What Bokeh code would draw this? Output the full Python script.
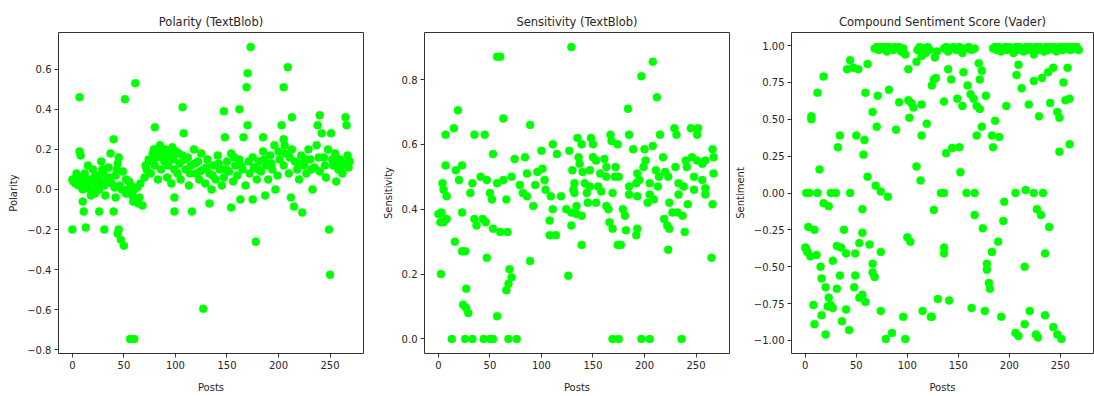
from bokeh.plotting import figure
from bokeh.layouts import row
from bokeh.models import Range1d, FixedTicker, CustomJSTickFormatter
from bokeh.embed import file_html
from bokeh.resources import INLINE

# ---------------- data ----------------
n_posts = 270
x_ticks = [0, 50, 100, 150, 200, 250]

polarity_points = [
    (0, -0.2), (0, 0.05), (1, 0.04), (3, 0.03), (5, 0.05), (6, 0.02), (7, 0.46), (7, 0.19),
    (8, 0.17), (9, 0.06), (10, -0.06), (10, 0.0), (11, -0.11), (12, 0.08), (13, -0.19), (13, 0.03),
    (15, 0.12), (15, 0.05), (17, 0.0), (18, -0.03), (20, 0.1), (21, 0.06), (22, -0.02), (24, 0.02),
    (25, 0.07), (26, -0.11), (26, 0.0), (27, 0.04), (28, 0.14), (30, 0.08), (31, -0.2), (31, 0.02),
    (32, -0.03), (34, 0.05), (35, 0.11), (37, 0.18), (38, 0.03), (40, -0.11), (40, 0.25), (41, 0.01),
    (42, -0.04), (42, 0.07), (44, -0.22), (44, 0.13), (45, -0.2), (45, 0.16), (46, 0.02), (47, -0.25),
    (48, 0.0), (50, -0.28), (51, 0.45), (52, -0.02), (52, 0.05), (54, 0.0), (56, -0.745), (57, 0.02),
    (58, -0.03), (60, -0.745), (60, 0.0), (61, 0.53), (62, -0.05), (63, 0.01), (64, -0.07), (65, -0.04),
    (66, 0.03), (68, -0.08), (70, 0.06), (72, 0.1), (74, 0.15), (76, 0.08), (78, 0.18), (79, 0.2),
    (80, 0.31), (80, 0.12), (82, 0.16), (83, 0.05), (85, 0.22), (86, 0.1), (88, 0.17), (89, 0.14),
    (90, 0.2), (92, 0.06), (93, 0.12), (95, 0.18), (96, 0.03), (98, 0.15), (99, -0.04), (99, -0.11),
    (99, 0.1), (100, 0.19), (102, 0.08), (104, 0.13), (105, 0.05), (107, 0.41), (107, 0.17), (108, 0.28),
    (110, 0.1), (112, 0.16), (113, 0.02), (115, 0.12), (116, -0.11), (118, 0.2), (120, 0.08), (122, 0.14),
    (123, 0.05), (125, 0.18), (127, -0.595), (127, 0.1), (129, 0.03), (131, 0.15), (133, -0.07), (133, 0.08),
    (135, 0.0), (137, 0.12), (139, 0.05), (141, 0.17), (143, 0.1), (145, 0.02), (147, 0.39), (147, 0.06),
    (148, 0.26), (150, 0.14), (152, 0.09), (154, -0.09), (154, 0.18), (156, 0.04), (158, 0.12), (160, 0.07),
    (162, 0.4), (162, 0.15), (163, -0.05), (165, 0.1), (166, 0.26), (168, 0.02), (169, 0.51), (170, 0.58),
    (170, 0.32), (172, 0.08), (173, 0.71), (175, -0.05), (175, 0.16), (176, 0.11), (178, -0.26), (179, 0.05),
    (181, 0.14), (183, 0.09), (185, 0.26), (185, 0.19), (187, -0.03), (188, 0.12), (190, 0.05), (192, 0.17),
    (194, 0.1), (196, 0.22), (197, 0.0), (199, 0.07), (201, 0.15), (203, 0.32), (205, 0.51), (205, 0.25),
    (205, 0.12), (207, 0.18), (209, 0.61), (210, 0.08), (212, -0.04), (213, 0.36), (213, 0.2), (215, -0.085),
    (216, 0.14), (218, 0.1), (220, 0.05), (222, 0.17), (223, -0.115), (225, 0.12), (227, 0.08), (229, 0.2),
    (231, 0.15), (233, 0.0), (235, 0.11), (237, 0.22), (238, 0.32), (240, 0.37), (240, 0.09), (242, 0.28),
    (244, 0.16), (246, 0.06), (248, 0.2), (249, -0.2), (250, -0.425), (251, 0.28), (253, 0.12), (255, 0.18),
    (256, 0.04), (258, 0.1), (260, 0.15), (262, 0.08), (264, 0.13), (265, 0.36), (266, 0.32), (268, 0.11),
    (269, 0.14),
    (4, 0.08), (19, 0.04), (29, 0.1), (36, 0.06), (43, 0.1), (49, 0.09), (55, 0.04), (59, -0.06),
    (71, 0.12), (77, 0.14), (84, 0.19), (91, 0.16), (97, 0.21), (103, 0.18), (109, 0.15), (114, 0.08),
    (119, 0.13), (124, 0.09), (130, 0.11), (136, 0.07), (142, 0.13), (149, 0.1), (157, 0.16), (164, 0.12),
    (171, 0.14), (180, 0.1), (186, 0.15), (193, 0.13), (200, 0.19), (206, 0.22), (211, 0.16), (219, 0.13),
    (226, 0.15), (232, 0.1), (239, 0.16), (245, 0.12), (252, 0.15), (257, 0.14), (261, 0.12), (267, 0.17),
]
polarity_ticks = [-0.8, -0.6, -0.4, -0.2, 0.0, 0.2, 0.4, 0.6]

subjectivity_points = [
    (2.5, 0.20), (0, 0.385), (2, 0.36), (3, 0.39), (4, 0.48), (5, 0.36), (5, 0.46), (7, 0.63), (7, 0.535),
    (8, 0.37), (8, 0.44), (13, 0.0), (15, 0.65), (16, 0.30), (17, 0.52), (19, 0.705), (20, 0.49), (23, 0.535),
    (23, 0.39), (23, 0.27), (24, 0.105), (26, 0.0), (26, 0.27), (27, 0.155), (27, 0.095), (29, 0.08), (31, 0.45),
    (33, 0.48), (33, 0.0), (35, 0.63), (35, 0.37), (37, 0.35), (41, 0.50), (43, 0.37), (44, 0.0), (45, 0.63),
    (46, 0.36), (47, 0.49), (47, 0.25), (50, 0.45), (50, 0.0), (52, 0.43), (53, 0.57), (53, 0.34), (53, 0.0),
    (57, 0.87), (57, 0.48), (57, 0.07), (60, 0.87), (60, 0.33), (63, 0.68), (63, 0.49), (66, 0.43), (66, 0.15),
    (67, 0.33), (68, 0.17), (68, 0.0), (69, 0.215), (71, 0.50), (71, 0.19), (74, 0.555), (76, 0.0), (79, 0.475),
    (82, 0.45), (84, 0.56), (86, 0.44), (86, 0.51), (89, 0.66), (89, 0.24), (92, 0.41), (94, 0.475), (96, 0.515),
    (100, 0.58), (101, 0.525), (103, 0.49), (104, 0.46), (108, 0.365), (108, 0.32), (109, 0.44), (111, 0.60),
    (111, 0.40), (114, 0.32), (115, 0.57), (119, 0.44), (124, 0.40), (126, 0.195), (127, 0.58), (129, 0.90),
    (129, 0.35), (129, 0.39), (130, 0.52), (131, 0.46), (132, 0.48), (132, 0.45), (134, 0.41), (134, 0.385),
    (135, 0.62), (136, 0.56), (137, 0.54), (139, 0.60), (139, 0.38), (139, 0.29), (140, 0.515), (142, 0.48),
    (144, 0.45), (145, 0.42), (147, 0.52), (147, 0.47), (148, 0.62), (150, 0.60), (150, 0.56), (153, 0.55),
    (153, 0.42), (155, 0.47), (157, 0.51), (158, 0.455), (161, 0.555), (163, 0.53), (163, 0.50), (163, 0.41),
    (165, 0.40), (166, 0.36), (167, 0.63), (168, 0.61), (169, 0.45), (169, 0.34), (169, 0.0), (171, 0.50),
    (172, 0.53), (174, 0.60), (174, 0.29), (175, 0.50), (175, 0.0), (177, 0.29), (179, 0.40), (181, 0.38),
    (182, 0.335), (184, 0.71), (185, 0.63), (185, 0.47), (185, 0.445), (189, 0.585), (192, 0.48), (192, 0.32),
    (193, 0.51), (193, 0.44), (193, 0.34), (195, 0.49), (197, 0.81), (197, 0.0), (199, 0.53), (200, 0.585),
    (201, 0.55), (203, 0.42), (205, 0.48), (205, 0.445), (205, 0.0), (208, 0.855), (208, 0.595), (209, 0.43),
    (211, 0.52), (212, 0.745), (213, 0.47), (214, 0.50), (215, 0.63), (218, 0.56), (219, 0.37), (220, 0.515),
    (222, 0.35), (223, 0.50), (223, 0.275), (224, 0.42), (224, 0.34), (227, 0.39), (229, 0.65), (230, 0.53),
    (231, 0.63), (232, 0.39), (233, 0.48), (233, 0.445), (236, 0.0), (237, 0.38), (238, 0.47), (239, 0.33),
    (240, 0.55), (241, 0.53), (242, 0.415), (245, 0.65), (246, 0.56), (248, 0.50), (248, 0.46), (251, 0.63),
    (251, 0.55), (252, 0.65), (256, 0.54), (256, 0.49), (259, 0.55), (259, 0.465), (259, 0.445), (265, 0.25),
    (266, 0.585), (266, 0.415), (267, 0.56), (267, 0.51),
]
subjectivity_ticks = [0.0, 0.2, 0.4, 0.6, 0.8]

compound_points = [
    (0, -0.37), (1, 0.0), (1, -0.38), (2, -0.40), (3, -0.23), (4, 0.0), (5, -0.43), (6, 0.50), (6, 0.52),
    (8, -0.76), (9, -0.25), (9, -0.89), (11, -0.42), (12, 0.68), (12, 0.0), (14, 0.16), (15, -0.50),
    (16, -0.58), (16, -0.83), (18, 0.79), (18, -0.07), (20, -0.64), (20, -0.96), (22, -0.77), (23, -0.09),
    (23, -0.71), (25, 0.0), (25, -0.76), (27, -0.46), (27, -0.78), (30, 0.0), (31, -0.36), (31, -0.65),
    (32, 0.31), (34, 0.39), (34, -0.56), (35, -0.37), (36, -0.87), (38, -0.25), (40, -0.41), (40, -0.79),
    (41, 0.84), (43, -0.93), (44, 0.90), (44, 0.0), (47, 0.85), (48, -0.64), (49, -0.41), (49, -0.56),
    (50, 0.39), (52, 0.84), (53, -0.34), (53, -0.71), (56, -0.11), (56, -0.27), (56, -0.69), (57, 0.26),
    (58, 0.36), (59, 0.68), (59, -0.74), (61, 0.875), (61, 0.11), (63, -0.35), (66, 0.55), (66, -0.48),
    (66, -0.54), (68, -0.57), (69, 0.05), (70, 0.45), (71, 0.66), (74, 0.01), (74, -0.40), (74, -0.80),
    (79, -0.99), (81, -0.025), (82, 0.70), (85, -0.95), (89, 0.43), (92, 0.615), (96, -0.84), (98, -0.99),
    (100, -0.30), (101, 0.63), (101, 0.84), (102, 0.51), (103, -0.33), (104, 0.61), (106, 0.58), (109, 0.89),
    (109, 0.18), (113, 0.085), (114, 0.60), (114, 0.39), (115, -0.80), (119, 0.47), (123, -0.84), (124, 0.73),
    (124, -0.84), (126, 0.77), (126, -0.115), (128, 0.78), (130, -0.72), (133, 0.0), (136, 0.0), (136, 0.62),
    (136, -0.37), (136, -0.41), (138, 0.27), (140, 0.84), (141, -0.73), (143, 0.77), (144, 0.305), (149, 0.64),
    (151, 0.31), (152, 0.14), (154, 0.59), (155, 0.82), (158, 0.0), (159, 0.73), (162, 0.67), (163, -0.78),
    (165, 0.64), (166, 0.0), (166, -0.15), (168, 0.59), (168, 0.39), (170, 0.88), (171, 0.57), (171, 0.77),
    (173, 0.83), (173, 0.45), (174, -0.24), (176, -0.80), (177, 0.66), (178, -0.48), (178, -0.52), (180, -0.61),
    (181, -0.65), (183, 0.39), (183, -0.40), (184, 0.31), (186, 0.49), (189, -0.33), (190, 0.38), (192, -0.84),
    (194, -0.19), (195, -0.06), (197, 0.59), (206, 0.0), (206, -0.95), (207, 0.80), (209, 0.87), (209, -0.97),
    (212, 0.71), (215, -0.50), (215, -0.89), (216, 0.02), (219, 0.60), (220, -0.80), (224, 0.0), (224, 0.76),
    (226, -0.96), (227, -0.11), (228, -0.98), (229, 0.52), (231, -0.15), (232, 0.78), (233, 0.0), (235, -0.41),
    (235, -0.83), (238, 0.82), (239, -0.23), (240, 0.61), (243, 0.85), (243, -0.91), (247, 0.55), (247, -0.96),
    (249, 0.51), (249, 0.28), (251, -0.99), (253, 0.75), (255, 0.63), (257, 0.85), (259, 0.64), (259, 0.33),
    (68, 0.98), (70, 0.99), (72, 0.97), (74, 0.99), (76, 0.98), (78, 0.99), (80, 0.96), (82, 0.99),
    (84, 0.98), (86, 0.97), (88, 0.99), (90, 0.98), (92, 0.99), (94, 0.96), (96, 0.98), (98, 0.94),
    (110, 0.97), (112, 0.99), (114, 0.93), (116, 0.98), (118, 0.95), (120, 0.99), (122, 0.97),
    (127, 0.92), (129, 0.96), (136, 0.98), (138, 0.99), (140, 0.96), (142, 0.98), (145, 0.99), (148, 0.97),
    (151, 0.99), (154, 0.95), (157, 0.98), (160, 0.99), (163, 0.97), (166, 0.98), (184, 0.98), (186, 0.99),
    (188, 0.97), (190, 0.99), (192, 0.96), (194, 0.98), (196, 0.99), (198, 0.97), (200, 0.99), (202, 0.98),
    (204, 0.95), (206, 0.99), (208, 0.97), (210, 0.99), (212, 0.98), (214, 0.96), (216, 0.99), (218, 0.97),
    (220, 0.99), (222, 0.98), (224, 0.94), (226, 0.99), (228, 0.97), (230, 0.99), (232, 0.98), (234, 0.96),
    (236, 0.99), (238, 0.97), (240, 0.99), (242, 0.98), (244, 0.99), (246, 0.96), (248, 0.98), (250, 0.99),
    (252, 0.97), (254, 0.99), (256, 0.98), (258, 0.99), (260, 0.97), (262, 0.99), (264, 0.98), (266, 0.99),
    (268, 0.97),
]
compound_ticks = [-1.0, -0.75, -0.5, -0.25, 0.0, 0.25, 0.5, 0.75, 1.0]

FONT = "DejaVu Sans"
TEXT = "#262626"


def margin_range(vals, frac=0.05):
    lo, hi = min(vals), max(vals)
    pad = (hi - lo) * frac
    return Range1d(lo - pad, hi + pad)


def panel(title, ylabel, points, yticks, decimals, width, left, right):
    xs = [a for a, _ in points]
    ys = [b for _, b in points]
    p = figure(
        width=width, height=396, output_backend="svg", toolbar_location=None,
        x_range=margin_range([0, n_posts - 1]), y_range=margin_range(ys),
        min_border_left=left, min_border_right=right,
        min_border_top=32, min_border_bottom=43,
        background_fill_color="white", border_fill_color="white",
    )
    p.scatter(xs, ys, size=8, fill_color="#00ff00", line_color="#00ff00", line_width=0.5)

    p.title.text = title
    p.title.align = "center"
    p.title.text_font = FONT
    p.title.text_font_style = "normal"
    p.title.text_font_size = "11.5px"
    p.title.text_color = TEXT
    p.title.standoff = 7

    p.grid.visible = False
    p.outline_line_color = "#333333"
    p.outline_line_width = 1

    for ax in (p.xaxis[0], p.yaxis[0]):
        ax.axis_line_color = None
        ax.major_tick_in = 0
        ax.major_tick_out = 4
        ax.major_tick_line_color = "#333333"
        ax.minor_tick_line_color = None
        ax.major_label_text_font = FONT
        ax.major_label_text_font_size = "10px"
        ax.major_label_text_color = TEXT
        ax.major_label_standoff = 3
        ax.axis_label_text_font = FONT
        ax.axis_label_text_font_size = "10px"
        ax.axis_label_text_font_style = "normal"
        ax.axis_label_text_color = TEXT

    p.xaxis.ticker = FixedTicker(ticks=x_ticks)
    p.xaxis.formatter = CustomJSTickFormatter(code="return tick.toFixed(0);")
    p.xaxis.axis_label = "Posts"
    p.xaxis.axis_label_standoff = 10

    p.yaxis.ticker = FixedTicker(ticks=yticks)
    p.yaxis.formatter = CustomJSTickFormatter(
        code="return tick.toFixed(%d).replace('-', '\\u2212');" % decimals)
    p.yaxis.axis_label = ylabel
    p.yaxis.axis_label_standoff = 5
    return p


p1 = panel("Polarity (TextBlob)", "Polarity", polarity_points, polarity_ticks, 1, 365, 58, 2)
p2 = panel("Sensitivity (TextBlob)", "Sensitivity", subjectivity_points, subjectivity_ticks, 1, 365, 59, 1)
p3 = panel("Compound Sentiment Score (Vader)", "Sentiment", compound_points, compound_ticks, 2, 364, 61, 1)

layout = row(p1, p2, p3)
open("out.html", "w").write(file_html(layout, INLINE))
